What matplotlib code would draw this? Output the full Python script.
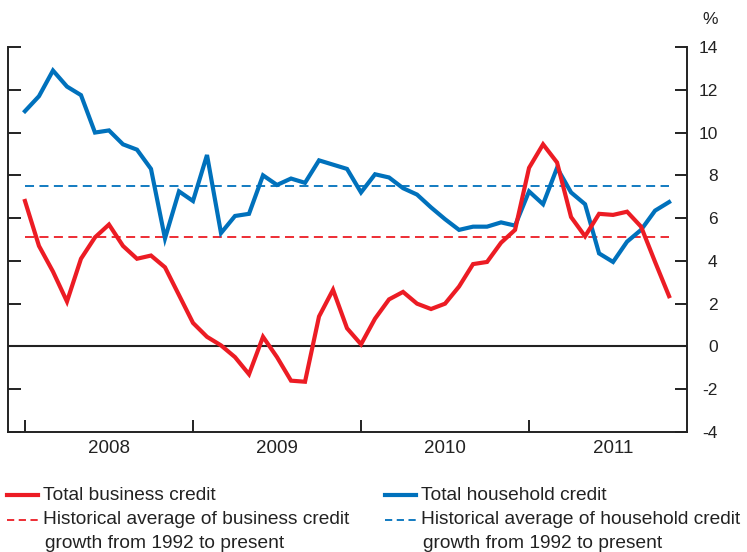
import numpy as np
import matplotlib
matplotlib.use("Agg")
from matplotlib import pyplot as plt
from matplotlib.lines import Line2D

plt.rcParams["font.family"] = ["Liberation Sans", "DejaVu Sans"]
plt.rcParams["axes.unicode_minus"] = False

# monthly data, Jan 2008 - Nov 2011 (year-ended growth, %)
business = [6.8, 4.7, 3.5, 2.1, 4.1, 5.1, 5.7, 4.7, 4.1, 4.25, 3.7, 2.4,
            1.1, 0.45, 0.05, -0.5, -1.3, 0.45, -0.5, -1.6, -1.65, 1.4, 2.65, 0.85,
            0.1, 1.3, 2.2, 2.55, 2.0, 1.75, 2.0, 2.8, 3.85, 3.95, 4.85, 5.45,
            8.35, 9.45, 8.6, 6.05, 5.15, 6.2, 6.15, 6.3, 5.6, 3.95, 2.35]
household = [11.0, 11.7, 12.9, 12.15, 11.75, 10.0, 10.1, 9.45, 9.2, 8.3, 5.05, 7.25,
             6.8, 8.95, 5.3, 6.1, 6.2, 8.0, 7.55, 7.85, 7.65, 8.7, 8.5, 8.3,
             7.2, 8.05, 7.9, 7.4, 7.1, 6.5, 5.95, 5.45, 5.6, 5.6, 5.8, 5.65,
             7.25, 6.65, 8.35, 7.2, 6.65, 4.35, 3.95, 4.9, 5.45, 6.35, 6.75]
business_avg = 5.1
household_avg = 7.5
years = [2008, 2009, 2010, 2011]
yticks = [-4, -2, 0, 2, 4, 6, 8, 10, 12, 14]

red = "#EC1C24"
blue = "#0071BC"
txt = "#222222"

t = 2008 + np.arange(len(business)) / 12.0

fig = plt.figure(figsize=(7.47, 5.52), dpi=100)
ax = fig.add_axes([8/747, 1-432/552, (687-8)/747, (432-47)/552])

ax.axhline(0, color="#222222", linewidth=1.5, zorder=1)
ax.plot([t[0], t[-1]], [business_avg]*2, color=red, linewidth=1.3, dashes=(5, 3))
ax.plot([t[0], t[-1]], [household_avg]*2, color=blue, linewidth=1.3, dashes=(5, 3))
ax.plot(t, household, color=blue, linewidth=3.0, solid_joinstyle="miter")
ax.plot(t, business, color=red, linewidth=3.0, solid_joinstyle="miter")

ax.set_xlim(2007.899, 2011.94)
ax.set_ylim(-4, 14)

for s in ["left", "right", "bottom"]:
    ax.spines[s].set_linewidth(1.4)
    ax.spines[s].set_color("#222222")
ax.spines["top"].set_visible(False)

ax.set_yticks(yticks)
ax.yaxis.set_ticks_position("both")
ax.tick_params(axis="y", direction="in", length=9, width=1.4, color="#222222",
               labelleft=False, labelright=True, labelsize=12.5, labelcolor=txt, pad=22)
for lab in ax.get_yticklabels():
    lab.set_horizontalalignment("right")

ax.set_xticks(years)
ax.set_xticks([y + 0.5 for y in years], minor=True)
ax.set_xticklabels([str(y) for y in years], minor=True)
ax.tick_params(axis="x", which="major", direction="in", length=9, width=1.4,
               color="#222222", labelbottom=False)
ax.tick_params(axis="x", which="minor", length=0, labelsize=13.5, labelcolor=txt, pad=6)

fig.text(718/747, 1-19/552, "%", ha="right", va="center", fontsize=12.5, color=txt)

# legend
fs = 13.8
rows = [1-495/552, 1-520/552, 1-544/552]
fig.add_artist(Line2D([7/747, 38/747], [rows[0]]*2, color=red, linewidth=3.0))
fig.add_artist(Line2D([385/747, 416/747], [rows[0]]*2, color=blue, linewidth=3.0))
fig.add_artist(Line2D([7/747, 38/747], [rows[1]]*2, color=red, linewidth=1.3, dashes=(4, 2.5)))
fig.add_artist(Line2D([385/747, 416/747], [rows[1]]*2, color=blue, linewidth=1.3, dashes=(4, 2.5)))
fig.text(43/747, rows[0], "Total business credit", va="center", fontsize=fs, color=txt)
fig.text(421/747, rows[0], "Total household credit", va="center", fontsize=fs, color=txt)
fig.text(43/747, rows[1], "Historical average of business credit", va="center", fontsize=fs, color=txt)
fig.text(421/747, rows[1], "Historical average of household credit", va="center", fontsize=fs, color=txt)
fig.text(45/747, rows[2], "growth from 1992 to present", va="center", fontsize=fs, color=txt)
fig.text(423/747, rows[2], "growth from 1992 to present", va="center", fontsize=fs, color=txt)

fig.savefig("out.png", dpi=100)
